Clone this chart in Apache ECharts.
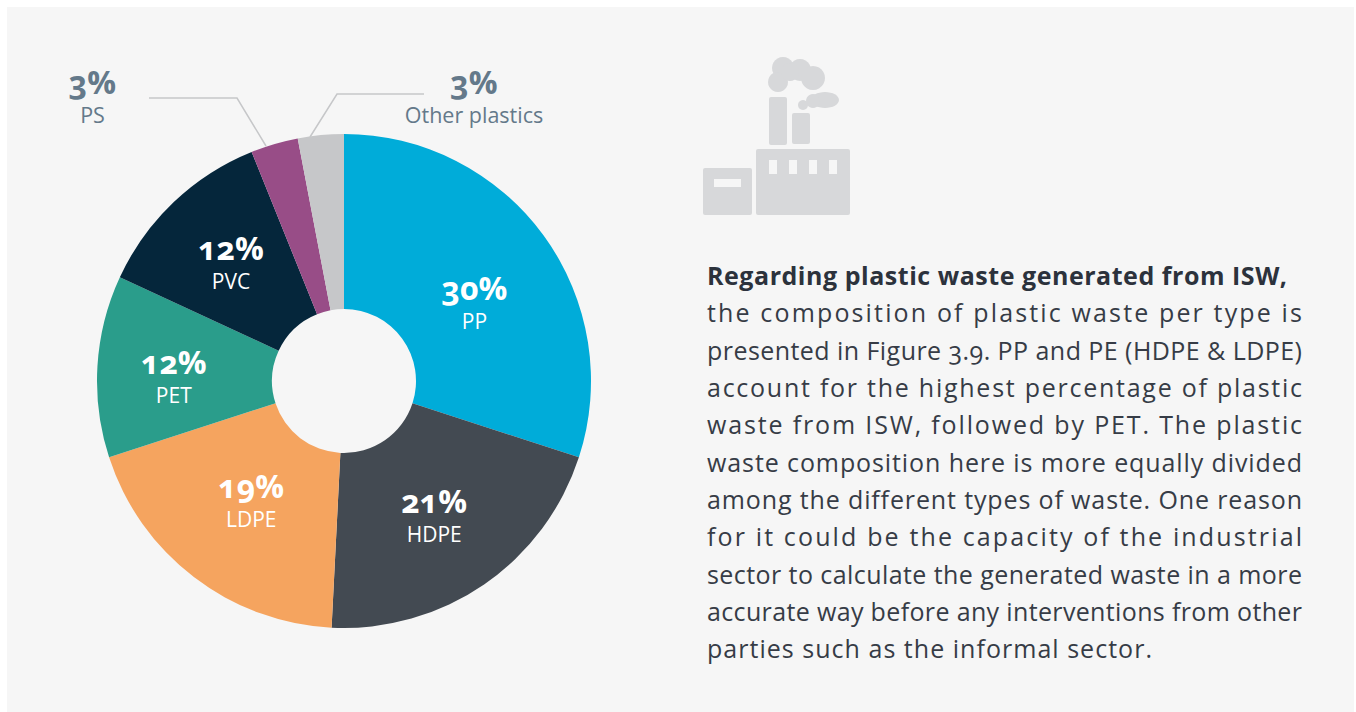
<!DOCTYPE html>
<html>
<head>
<meta charset="utf-8">
<script src="https://cdn.jsdelivr.net/npm/echarts@6/dist/echarts.min.js"></script>
<style>
html,body{margin:0;padding:0;background:#fff;width:1356px;height:712px;overflow:hidden}
#panel{position:absolute;left:7px;top:7px;width:1347px;height:705px;background:#f6f6f6}
#chart{position:absolute;left:0;top:0;width:1356px;height:712px}
#chart text{font-feature-settings:"onum" 1,"lnum" 0;font-variant-numeric:oldstyle-nums}
#body{position:absolute;left:707px;top:257px;width:640px;font-family:"Open Sans",sans-serif;font-size:25px;line-height:37.35px;color:#363c46;font-feature-settings:"onum" 1;font-variant-numeric:oldstyle-nums}
#body div{white-space:nowrap;height:37.35px}
#body b{color:#2c323c}
</style>
</head>
<body>
<div id="panel"></div>
<div id="chart"></div>
<div id="body"></div>
<script>
const categories = ['PP','HDPE','LDPE','PET','PVC','PS','Other plastics'];
const shares = [30,20.8,19.2,11.9,12,3.1,3];
const shareLabels = ['30%','21%','19%','12%','12%','3%','3%'];
const sliceColors = ['#00acd9','#434a52','#f5a45f','#2a9d8b','#05263b','#984d87','#c6c7c9'];
const bodyLines = [
 'Regarding plastic waste generated from ISW,',
 'the composition of plastic waste per type is',
 'presented in Figure 3.9. PP and PE (HDPE & LDPE)',
 'account for the highest percentage of plastic',
 'waste from ISW, followed by PET. The plastic',
 'waste composition here is more equally divided',
 'among the different types of waste. One reason',
 'for it could be the capacity of the industrial',
 'sector to calculate the generated waste in a more',
 'accurate way before any interventions from other',
 'parties such as the informal sector.'
];
const FONT='"Open Sans",sans-serif';
const bodyEl=document.getElementById('body');
bodyLines.forEach((t,i)=>{
  const d=document.createElement('div');
  const s=document.createElement(i===0?'b':'span');
  s.textContent=t;
  d.appendChild(s);
  bodyEl.appendChild(d);
  const target=i===0?580:(i===bodyLines.length-1?445:595);
  const w=s.getBoundingClientRect().width;
  s.style.letterSpacing=((target-w)/(t.length-1)).toFixed(3)+'px';
});
const CX=344,CY=381;
const innerShift={0:[-1,16.5],1:[-2,0],2:[6,-10.5],3:[-8,4.5],4:[-1,-1.5]};
const outerPlace={
 5:{x:92.5,y:95,line:[[266,146],[237,98],[149,98]]},
 6:{x:474,y:95,line:[[310,137],[337,94],[424,94]]}
};
const icon='#d7d8da', bg='#f6f6f6';
const rect=(x,y,w,h,fill,r)=>({type:'rect',silent:true,shape:{x,y,width:w,height:h,r:r||0},style:{fill}});
const circ=(cx,cy,r)=>({type:'circle',silent:true,shape:{cx,cy,r},style:{fill:icon}});
const ell=(cx,cy,rx,ry)=>({type:'ellipse',silent:true,shape:{cx,cy,rx,ry},style:{fill:icon}});
const chart=echarts.init(document.getElementById('chart'),null,{renderer:'svg'});
chart.setOption({
  animation:false,
  backgroundColor:'transparent',
  color:sliceColors,
  graphic:[
    rect(703,168,49,47,icon,2),rect(714,179,27,8,bg),
    rect(756,149,94,66,icon,2),
    rect(769,160,8,14,bg),rect(789,160,8,14,bg),rect(809,160,8,14,bg),rect(829,160,8,14,bg),
    rect(769,97,18,48,icon,2),rect(792,113,18,31,icon,2),
    circ(783,68,11),circ(800,70,11),circ(813,78,12),circ(778,82,10),circ(790,72,9),
    ell(825,100,14,8),circ(813,101,7),circ(803,105,5)
  ],
  series:[{
    type:'pie',
    center:[CX,CY],
    radius:[72,247],
    startAngle:90,
    clockwise:true,
    silent:true,
    avoidLabelOverlap:false,
    data:categories.map((name,i)=>({
      name,value:shares[i],
      label:{position:i>=5?'outside':'inside',
        formatter:i>=5?'{g|'+shareLabels[i]+'}\n{h|{b}}':'{p|'+shareLabels[i]+'}\n{n|{b}}'},
      labelLine:{show:i>=5}
    })),
    label:{
      fontFamily:FONT,
      align:'center',
      rich:{
        p:{fontFamily:FONT,fontSize:32,fontWeight:700,color:'#fff',lineHeight:38,align:'center'},
        n:{fontFamily:FONT,fontSize:21,color:'#fff',lineHeight:28,align:'center'},
        g:{fontFamily:FONT,fontSize:32,fontWeight:700,color:'#64798a',lineHeight:38,align:'center'},
        h:{fontFamily:FONT,fontSize:21.5,color:'#64798a',lineHeight:28,align:'center'}
      }
    },
    labelLine:{show:true,lineStyle:{color:'#c6c7c9',width:1.5}},
    labelLayout(p){
      const o=outerPlace[p.dataIndex];
      if(o) return {x:o.x,y:o.y,align:'center',verticalAlign:'middle',labelLinePoints:o.line};
      const s=innerShift[p.dataIndex];
      return {dx:s[0],dy:s[1]};
    }
  }]
});
</script>
</body>
</html>
